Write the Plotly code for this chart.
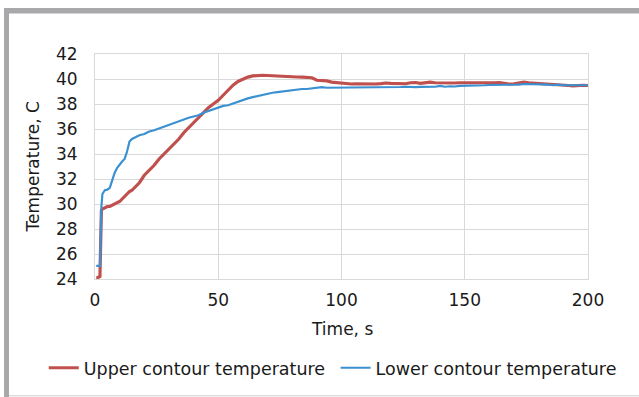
import plotly.graph_objects as go

time_s = [0.5, 1, 2, 2.6, 3, 4, 5, 6, 7, 8, 9, 10, 11, 12, 13, 14, 15, 16, 18, 20,
          22, 24, 26, 28, 30, 32, 34, 36, 38, 40, 42, 44, 46, 48, 50, 52, 54, 56, 58, 60,
          62, 64, 66, 68, 70, 72, 74, 76, 78, 80, 82, 84, 86, 88, 90, 92, 94, 96, 98, 100,
          102, 104, 106, 108, 110, 112, 114, 116, 118, 120, 122, 124, 126, 128, 130, 132, 134, 136, 138, 140,
          142, 144, 146, 148, 150, 152, 154, 156, 158, 160, 162, 164, 166, 168, 170, 172, 174, 176, 178, 180,
          182, 184, 186, 188, 190, 192, 194, 196, 198, 200]

upper_temp = [24.1, 24.1, 24.2, 29.5, 29.6, 29.7, 29.8, 29.8, 29.9, 30.0, 30.1, 30.2, 30.4, 30.6, 30.8, 31.0, 31.1, 31.3, 31.7, 32.3,
              32.7, 33.1, 33.6, 34.0, 34.4, 34.8, 35.2, 35.7, 36.1, 36.5, 36.9, 37.3, 37.7, 38.0, 38.3, 38.7, 39.1, 39.5, 39.8, 40.0,
              40.15, 40.25, 40.3, 40.3, 40.28, 40.25, 40.22, 40.2, 40.2, 40.18, 40.16, 40.15, 40.15, 40.1, 39.9, 39.88, 39.85, 39.75, 39.7, 39.65,
              39.6, 39.6, 39.62, 39.6, 39.58, 39.6, 39.6, 39.63, 39.68, 39.65, 39.62, 39.6, 39.62, 39.7, 39.72, 39.65, 39.7, 39.75, 39.7, 39.68,
              39.7, 39.7, 39.68, 39.7, 39.7, 39.68, 39.68, 39.7, 39.65, 39.65, 39.7, 39.72, 39.65, 39.6, 39.62, 39.7, 39.75, 39.7, 39.68, 39.62,
              39.6, 39.58, 39.55, 39.52, 39.5, 39.48, 39.45, 39.5, 39.5, 39.48]

lower_temp = [25.05, 25.05, 25.05, 29.8, 30.8, 31.1, 31.15, 31.3, 31.9, 32.5, 32.9, 33.2, 33.4, 33.6, 34.2, 35.0, 35.2, 35.3, 35.5, 35.6,
              35.8, 35.9, 36.05, 36.2, 36.3, 36.45, 36.6, 36.75, 36.9, 37.0, 37.1, 37.3, 37.45, 37.6, 37.75, 37.85, 37.9, 38.05, 38.2, 38.3,
              38.45, 38.55, 38.65, 38.75, 38.85, 38.9, 38.95, 39.0, 39.1, 39.12, 39.15, 39.2, 39.2, 39.25, 39.3, 39.35, 39.3, 39.3, 39.32, 39.3,
              39.35, 39.32, 39.33, 39.35, 39.3, 39.33, 39.35, 39.34, 39.35, 39.36, 39.35, 39.36, 39.38, 39.35, 39.35, 39.37, 39.36, 39.4, 39.38, 39.45,
              39.38, 39.42, 39.4, 39.45, 39.45, 39.5, 39.5, 39.5, 39.5, 39.52, 39.52, 39.55, 39.5, 39.55, 39.5, 39.55, 39.6, 39.6, 39.58, 39.6,
              39.55, 39.55, 39.5, 39.55, 39.5, 39.5, 39.5, 39.5, 39.5, 39.5]

x_ticks = [0, 50, 100, 150, 200]
y_ticks = [24, 26, 28, 30, 32, 34, 36, 38, 40, 42]

FONT = "DejaVu Sans"
TXT = "#1a1a1a"
GRID = "#d9d9d9"

fig = go.Figure()
fig.add_trace(go.Scatter(x=time_s, y=upper_temp, mode="lines", name="Upper contour temperature",
                         line=dict(color="#c0504d", width=3.2), legend="legend"))
fig.add_trace(go.Scatter(x=time_s, y=lower_temp, mode="lines", name="Lower contour temperature",
                         line=dict(color="#3a90d0", width=2.2), legend="legend2"))

leg_common = dict(orientation="h", yanchor="middle", y=-0.395, xanchor="left",
                  font=dict(family=FONT, size=17.5, color=TXT), itemwidth=30,
                  bgcolor="rgba(0,0,0,0)", borderwidth=0)

fig.update_layout(
    width=639, height=397,
    margin=dict(l=95, r=51, t=54, b=118, autoexpand=False),
    paper_bgcolor="white", plot_bgcolor="white",
    font=dict(family=FONT, size=17, color=TXT),
    showlegend=True,
    legend=dict(x=-0.104, **leg_common),
    legend2=dict(x=0.488, **leg_common),
    xaxis=dict(range=[0, 200], tickvals=x_ticks, ticktext=[str(v) for v in x_ticks],
               showgrid=True, gridcolor=GRID, gridwidth=1, zeroline=False,
               showline=True, linecolor=GRID, linewidth=1, mirror=True,
               ticks="", ticklabelstandoff=6,
               tickfont=dict(family=FONT, size=17, color=TXT)),
    yaxis=dict(range=[24, 42], tickvals=y_ticks, ticktext=[str(v) for v in y_ticks],
               showgrid=True, gridcolor=GRID, gridwidth=1, zeroline=False,
               showline=True, linecolor=GRID, linewidth=1, mirror=True,
               ticks="", ticklabelstandoff=13,
               tickfont=dict(family=FONT, size=17, color=TXT)),
    annotations=[
        dict(text="Time, s", xref="paper", yref="paper", x=0.5, y=-0.222,
             xanchor="center", yanchor="middle", showarrow=False,
             font=dict(family=FONT, size=17, color=TXT)),
        dict(text="Temperature, C", xref="paper", yref="paper", x=-0.126, y=0.5,
             xanchor="center", yanchor="middle", showarrow=False, textangle=-90,
             font=dict(family=FONT, size=17, color=TXT)),
    ],
    shapes=[
        dict(type="rect", xref="paper", yref="paper", x0=-0.1845, x1=1.11, y0=1.18, y1=1.204,
             fillcolor="#a8a8aa", line=dict(width=0), layer="above"),
        dict(type="rect", xref="paper", yref="paper", x0=-0.1845, x1=-0.1745, y0=-0.53, y1=1.204,
             fillcolor="#a8a8aa", line=dict(width=0), layer="above"),
        dict(type="rect", xref="paper", yref="paper", x0=-0.1745, x1=1.11, y0=-0.5215, y1=-0.5170,
             fillcolor="#cfcfcf", line=dict(width=0), layer="above"),
    ],
)

fig.write_html("out.html")
